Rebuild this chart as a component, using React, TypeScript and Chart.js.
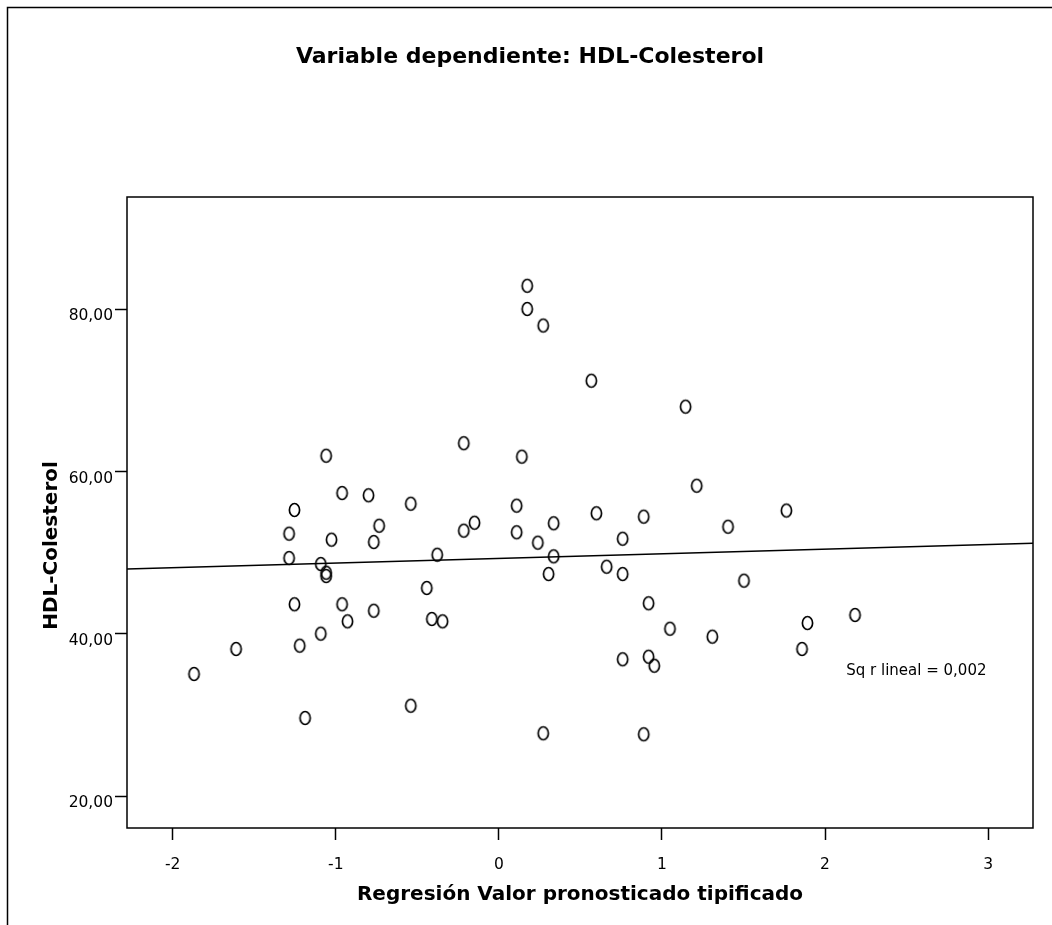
import { useEffect, useRef } from 'react';
import { Chart, registerables } from 'chart.js';

Chart.register(...registerables);

// Standardised predicted value (x) and observed HDL cholesterol (y) per case
const predictedZ = [
  0.174, 0.174, 0.272, -1.059, -0.215, 0.141, -0.961, -0.799, -0.54, 0.109,
  -1.253, 0.567, 1.145, 1.213, 0.598, 0.888, 1.763, -1.286, -1.286, -1.026,
  -0.734, -0.767, -0.149, -0.215, 0.109, 0.239, 0.336, 0.336, 0.305, -0.378,
  -1.092, -1.059, -1.059, -0.442, -1.253, -0.961, -0.928, -0.767, -0.411, -0.345,
  -1.092, -1.221, -1.611, -1.869, -1.188, -0.54, 0.272, 0.759, 1.405, 0.661,
  0.759, 1.503, 0.918, 1.049, 1.309, 1.892, 2.184, 1.859, 0.759, 0.918,
  0.953, 0.888,
];
const hdlValues = [
  82.9, 80.04, 78.0, 61.96, 63.5, 61.84, 57.36, 57.08, 56.04, 55.8,
  55.27, 71.2, 68.0, 58.26, 54.86, 54.45, 55.2, 52.35, 49.35, 51.61,
  53.33, 51.32, 53.7, 52.72, 52.52, 51.24, 53.63, 49.56, 47.38, 49.76,
  48.61, 47.54, 47.13, 45.66, 43.65, 43.65, 41.55, 42.86, 41.84, 41.55,
  40.03, 38.55, 38.14, 35.06, 29.64, 31.15, 27.75, 51.73, 53.21, 48.28,
  47.38, 46.56, 43.77, 40.64, 39.66, 41.34, 42.33, 38.14, 36.87, 37.19,
  36.08, 27.63,
];

// Linear fit line (intercept, slope) and its R²
const fitIntercept = 49.3;
const fitSlope = 0.57;
const rSquaredLabel = 'Sq r lineal = 0,002';
const rSquaredAnchor = { x: 2.13, y: 35.46 };

const xTickValues = [-2, -1, 0, 1, 2, 3];
const xTickLabels = ['-2', '-1', '0', '1', '2', '3'];
const yTickValues = [20, 40, 60, 80];
const yTickLabels = ['20,00', '40,00', '60,00', '80,00'];
const xRange = [-2.28, 3.275];
const yRange = [16.08, 93.84];

const chartTitle = 'Variable dependiente: HDL-Colesterol';
const xAxisTitle = 'Regresión Valor pronosticado tipificado';
const yAxisTitle = 'HDL-Colesterol';

const FONT = '"DejaVu Sans", "Liberation Sans", Arial, sans-serif';

// Hollow, slightly tall ellipse used as the scatter marker
function makeMarker(): HTMLCanvasElement {
  const c = document.createElement('canvas');
  c.width = 15;
  c.height = 18;
  const g = c.getContext('2d')!;
  g.strokeStyle = '#000';
  g.lineWidth = 1.7;
  g.beginPath();
  g.ellipse(7.5, 9, 5.1, 6.5, 0, 0, Math.PI * 2);
  g.stroke();
  return c;
}

const decorPlugin = {
  id: 'decor',
  beforeDraw(chart: any) {
    const { ctx, width, height } = chart;
    ctx.save();
    ctx.fillStyle = '#fff';
    ctx.fillRect(0, 0, width, height);
    // outer chart frame (left and top edges)
    ctx.strokeStyle = '#000';
    ctx.lineWidth = 1.5;
    ctx.beginPath();
    ctx.moveTo(7.5, height);
    ctx.lineTo(7.5, 7.5);
    ctx.lineTo(width, 7.5);
    ctx.stroke();
    ctx.restore();
  },
  afterDraw(chart: any) {
    const { ctx, chartArea: a, scales } = chart;
    ctx.save();
    // box around the plotting area
    ctx.strokeStyle = '#000';
    ctx.lineWidth = 1.5;
    ctx.strokeRect(a.left, a.top, a.right - a.left, a.bottom - a.top);

    // vertical axis title
    ctx.fillStyle = '#000';
    ctx.font = `bold 20px ${FONT}`;
    ctx.textAlign = 'center';
    ctx.textBaseline = 'middle';
    ctx.translate(52, (a.top + a.bottom) / 2 + 33);
    ctx.rotate(-Math.PI / 2);
    ctx.fillText(yAxisTitle, 0, 0);
    ctx.restore();

    // R² note
    ctx.save();
    ctx.fillStyle = '#000';
    ctx.font = `15px ${FONT}`;
    ctx.textAlign = 'left';
    ctx.textBaseline = 'middle';
    ctx.fillText(
      rSquaredLabel,
      scales.x.getPixelForValue(rSquaredAnchor.x),
      scales.y.getPixelForValue(rSquaredAnchor.y)
    );
    ctx.restore();
  },
};

export default function App() {
  const canvasRef = useRef<HTMLCanvasElement | null>(null);

  useEffect(() => {
    if (!canvasRef.current) return;
    const marker = makeMarker();
    const points = predictedZ.map((x, i) => ({ x, y: hdlValues[i] }));
    const fitLine = xRange.map((x) => ({ x, y: fitIntercept + fitSlope * x }));

    const chart = new Chart(canvasRef.current, {
      type: 'scatter',
      data: {
        datasets: [
          {
            type: 'line',
            data: fitLine,
            borderColor: '#000',
            borderWidth: 1.4,
            pointRadius: 0,
            fill: false,
          },
          {
            data: points,
            pointStyle: marker,
            pointRadius: 6,
            borderColor: '#000',
            backgroundColor: 'transparent',
          },
        ],
      },
      options: {
        responsive: false,
        animation: false,
        devicePixelRatio: 1,
        layout: { padding: { left: 27, right: 19, top: 0, bottom: 0 } },
        plugins: {
          legend: { display: false },
          tooltip: { enabled: false },
          title: {
            display: true,
            text: chartTitle,
            color: '#000',
            font: { family: FONT, size: 22, weight: 'bold' },
            padding: { top: 44, bottom: 126.6 },
          },
        },
        scales: {
          x: {
            type: 'linear',
            min: xRange[0],
            max: xRange[1],
            afterBuildTicks: (scale: any) => {
              scale.ticks = xTickValues.map((value) => ({ value }));
            },
            afterFit: (scale: any) => {
              scale.height = 97;
            },
            ticks: {
              color: '#000',
              font: { family: FONT, size: 15.5 },
              padding: 16,
              maxRotation: 0,
              callback: (_v: any, i: number) => xTickLabels[i],
            },
            grid: {
              display: true,
              drawOnChartArea: false,
              drawTicks: true,
              tickLength: 12,
              tickColor: '#000',
              tickWidth: 1.5,
            },
            border: { display: false },
            title: {
              display: true,
              text: xAxisTitle,
              color: '#000',
              font: { family: FONT, size: 20, weight: 'bold' },
              padding: { top: 0, bottom: 18 },
            },
          },
          y: {
            type: 'linear',
            min: yRange[0],
            max: yRange[1],
            afterBuildTicks: (scale: any) => {
              scale.ticks = yTickValues.map((value) => ({ value }));
            },
            afterFit: (scale: any) => {
              scale.width = 100;
            },
            ticks: {
              color: '#000',
              font: { family: FONT, size: 15.5 },
              padding: 2,
              labelOffset: 7,
              callback: (_v: any, i: number) => yTickLabels[i],
            },
            grid: {
              display: true,
              drawOnChartArea: false,
              drawTicks: true,
              tickLength: 12,
              tickColor: '#000',
              tickWidth: 1.5,
            },
            border: { display: false },
          },
        },
      },
      plugins: [decorPlugin],
    } as any);

    return () => chart.destroy();
  }, []);

  return (
    <div style={{ position: 'absolute', left: 0, top: 0, width: 1052, height: 925 }}>
      <canvas ref={canvasRef} width={1052} height={925} />
    </div>
  );
}
